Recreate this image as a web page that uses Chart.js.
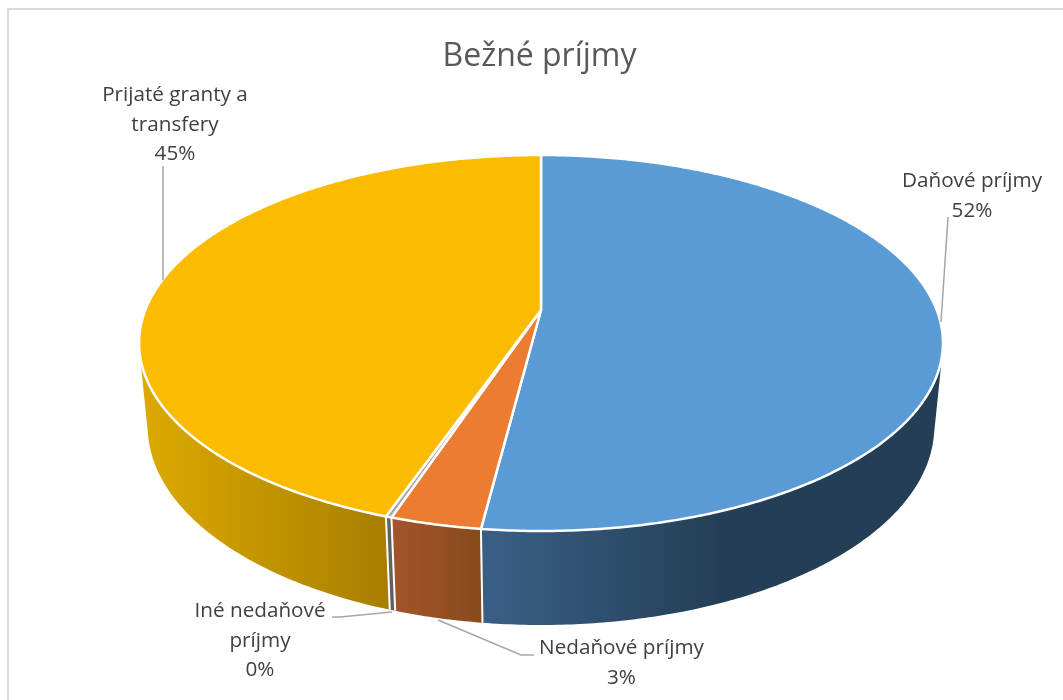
<!DOCTYPE html>
<html>
<head>
<meta charset="utf-8">
<style>html,body{margin:0;padding:0;background:#fff}canvas{display:block}</style>
<script src="https://cdn.jsdelivr.net/npm/chart.js@4/dist/chart.umd.min.js"></script>
</head>
<body>
<canvas id="c" width="1063" height="700"></canvas>
<script>
const titleText = 'Bežné príjmy';
const categories = ['Daňové príjmy', 'Nedaňové príjmy', ['Iné nedaňové', 'príjmy'], ['Prijaté granty a', 'transfery']];
const shareValues = [52, 3.1, 0.2, 44.7];
const shareLabels = ['52%', '3%', '0%', '45%'];
const topColors = ['#5B9BD5', '#EC7C31', '#A5A5A5', '#FBBC00'];

const FONT = '"Open Sans", sans-serif';
const cam = { cx: 541, cy: 310, a: 395.7, b: 182.2, k: 0.1756, c: 84.2, m: 0.0214 };
function project(t, z) {
  const u = Math.sin(t), v = -Math.cos(t);
  const w = 1 - cam.k * v + cam.m * z;
  return [cam.cx + cam.a * u / w, cam.cy + (cam.b * v + cam.c * z) / w];
}
function samples(a0, a1) {
  const n = Math.max(2, Math.ceil(Math.abs(a1 - a0) / 0.01));
  const out = [];
  for (let i = 0; i <= n; i++) out.push(a0 + (a1 - a0) * i / n + Math.PI / 2);
  return out;
}
const wallStyles = [
  { x0: 482, x1: 720, c0: '#3A5F87', c1: '#243F55' },
  { x0: 393, x1: 481, c0: '#A5542A', c1: '#864A1C' },
  { x0: 386, x1: 393, c0: '#666666', c1: '#5F5F5F' },
  { x0: 143, x1: 386, c0: '#DCAA00', c1: '#A87E00' }
];
const labelBoxes = [
  { x: 972, y: 187, lead: [[948, 217], [941, 322]] },
  { x: 621.5, y: 654, lead: [[534, 655], [521, 655], [438, 620]] },
  { x: 260, y: 617, lead: [[332, 617], [340, 617], [392, 612]] },
  { x: 175, y: 101, lead: [[163, 166], [163, 280]] }
];

const pie3d = {
  id: 'pie3d',
  beforeDatasetDraw() { return false; },
  beforeDatasetsDraw(chart) {
    const ctx = chart.ctx;
    const arcs = chart.getDatasetMeta(0).data;
    ctx.save();
    ctx.lineJoin = 'round';
    // outer walls
    arcs.forEach((arc, i) => {
      const ts = samples(arc.startAngle, arc.endAngle);
      const vis = [];
      for (let j = 0; j < ts.length; j++) {
        const t0 = j < ts.length - 1 ? ts[j] : ts[j - 1];
        const t1 = j < ts.length - 1 ? ts[j + 1] : ts[j];
        const p = project(t0, 0), q = project(t1, 0), r = project(t0, 1);
        const cross = (q[0] - p[0]) * (r[1] - p[1]) - (q[1] - p[1]) * (r[0] - p[0]);
        if (cross < 0) vis.push(ts[j]);
      }
      if (vis.length < 2) return;
      const s = wallStyles[i];
      const g = ctx.createLinearGradient(s.x0, 0, s.x1, 0);
      g.addColorStop(0, s.c0);
      g.addColorStop(1, s.c1);
      ctx.beginPath();
      vis.forEach((t, j) => { const p = project(t, 0); j ? ctx.lineTo(p[0], p[1]) : ctx.moveTo(p[0], p[1]); });
      vis.slice().reverse().forEach(t => { const p = project(t, 1); ctx.lineTo(p[0], p[1]); });
      ctx.closePath();
      ctx.fillStyle = g;
      ctx.fill();
    });
    // white seams on the wall at each front slice boundary
    ctx.strokeStyle = '#fff';
    ctx.lineWidth = 2;
    arcs.forEach(arc => {
      const t = arc.startAngle + Math.PI / 2;
      if (t < Math.PI * 0.8) return;
      const p = project(t, 0), q = project(t, 1);
      ctx.beginPath(); ctx.moveTo(p[0], p[1]); ctx.lineTo(q[0], q[1]); ctx.stroke();
    });
    // top faces
    arcs.forEach((arc, i) => {
      const ts = samples(arc.startAngle, arc.endAngle);
      ctx.beginPath();
      ctx.moveTo(cam.cx, cam.cy);
      ts.forEach(t => { const p = project(t, 0); ctx.lineTo(p[0], p[1]); });
      ctx.closePath();
      ctx.fillStyle = arc.options.backgroundColor;
      ctx.fill();
      ctx.strokeStyle = arc.options.borderColor;
      ctx.lineWidth = arc.options.borderWidth;
      ctx.stroke();
    });
    ctx.restore();
  },
  afterDraw(chart) {
    const ctx = chart.ctx;
    ctx.save();
    // chart frame
    ctx.strokeStyle = '#D9D9D9';
    ctx.lineWidth = 2;
    ctx.beginPath();
    ctx.moveTo(8, 710); ctx.lineTo(8, 9); ctx.lineTo(1073, 9);
    ctx.stroke();
    // leader lines
    ctx.strokeStyle = '#A6A6A6';
    ctx.lineWidth = 1.5;
    labelBoxes.forEach(b => {
      ctx.beginPath();
      b.lead.forEach((p, j) => j ? ctx.lineTo(p[0], p[1]) : ctx.moveTo(p[0], p[1]));
      ctx.stroke();
    });
    // data labels
    ctx.fillStyle = '#404040';
    ctx.font = '20.7px ' + FONT;
    ctx.textAlign = 'center';
    ctx.textBaseline = 'alphabetic';
    chart.data.labels.forEach((lab, i) => {
      const lines = [].concat(lab, shareLabels[i]);
      lines.forEach((line, j) => ctx.fillText(line, labelBoxes[i].x, labelBoxes[i].y + j * 29.5));
    });
    ctx.restore();
  }
};

new Chart(document.getElementById('c'), {
  type: 'pie',
  data: {
    labels: categories,
    datasets: [{ data: shareValues, backgroundColor: topColors, borderColor: '#FFFFFF', borderWidth: 2.5 }]
  },
  options: {
    responsive: false,
    animation: false,
    layout: { padding: { left: 16 } },
    plugins: {
      legend: { display: false },
      tooltip: { enabled: false },
      title: {
        display: true,
        text: titleText,
        color: '#595959',
        font: { family: FONT, size: 32, weight: 'normal' },
        padding: { top: 38, bottom: 0 }
      }
    }
  },
  plugins: [pie3d]
});
</script>
</body>
</html>
